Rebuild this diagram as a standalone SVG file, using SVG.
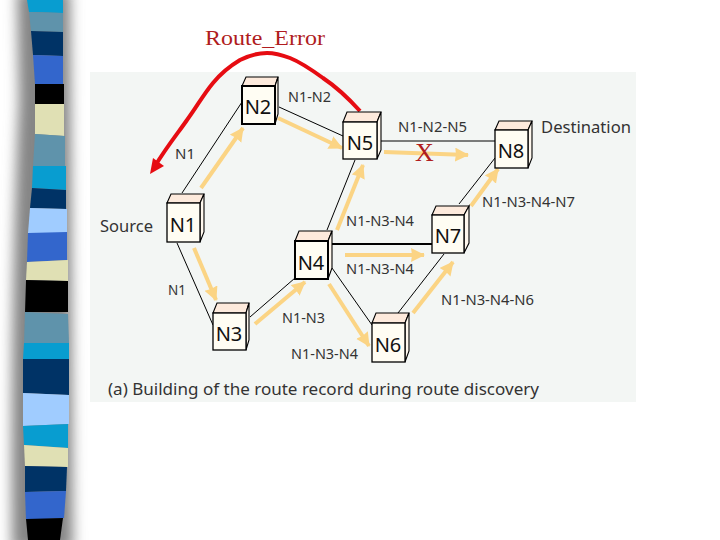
<svg xmlns="http://www.w3.org/2000/svg" width="720" height="540" viewBox="0 0 720 540">
<style>
.lbl{font-family:"Noto Sans","Open Sans","DejaVu Sans",sans-serif;font-size:15px;fill:#333}
.big{font-size:16.5px}
.nn{font-family:"Noto Sans","Open Sans","DejaVu Sans",sans-serif;font-size:20px;fill:#111;text-anchor:middle}
.lnk{stroke:#000;stroke-width:1;fill:none}
.arr{stroke:#fbd484;stroke-width:4;fill:none;marker-end:url(#oh)}
.f{fill:#fffdf3;stroke:#000;stroke-width:1.3}
.t{fill:#fdeadc;stroke:#000;stroke-width:1.1}
.s{fill:#fff8ee;stroke:#000;stroke-width:1.1}
.ser{font-family:"Liberation Serif","Times New Roman",serif}
</style>
<defs>
<marker id="oh" markerUnits="userSpaceOnUse" markerWidth="16" markerHeight="16" refX="13" refY="7" orient="auto"><path d="M0 0L14 7L0 14L1 7Z" fill="#fbd484"/></marker>
<filter id="blur" x="-50%" y="-5%" width="200%" height="110%"><feGaussianBlur stdDeviation="6.5"/></filter>
</defs>
<rect width="720" height="540" fill="#fff"/>
<rect x="90" y="72" width="546" height="330" fill="#f3f6f4"/>
<g id="strip">
<path d="M17 -10L70 -10L73 550L12 550Q10 300 19 100Z" fill="#858585" filter="url(#blur)"/>
<polygon points="27,0 63,0 63,13 29,12" fill="#089dd0"/>
<polygon points="29,12 63,13 63,32 31,31" fill="#5f93ab"/>
<polygon points="31,31 63,32 63,56 33,55" fill="#003366"/>
<polygon points="33,55 63,56 63,84 35,84" fill="#3366cc"/>
<polygon points="35,84 64,84 64,104 35,104" fill="#000"/>
<polygon points="35,104 64,104 64,136 35,134" fill="#e0e0b4"/>
<polygon points="35,134 65,136 65,166 33,166" fill="#5f93ab"/>
<polygon points="33,166 66,166 66,190 32,188" fill="#089dd0"/>
<polygon points="32,188 66,190 66,209 30,208" fill="#003366"/>
<polygon points="30,208 67,209 67,233 28,233" fill="#a0ccff"/>
<polygon points="28,233 67,232 67,260 27,262" fill="#3366cc"/>
<polygon points="27,262 68,260 68,281 26,280" fill="#e0e0b4"/>
<polygon points="26,280 68,281 68,312 25,312" fill="#000"/>
<polygon points="25,312 68,314 69,343 24,343" fill="#5f93ab"/>
<polygon points="24,343 69,343 69,359 23,359" fill="#089dd0"/>
<polygon points="23,359 69,359 69,395 23,393" fill="#003366"/>
<polygon points="23,393 69,395 69,424 23,426" fill="#a0ccff"/>
<polygon points="23,426 68,424 68,448 24,445" fill="#089dd0"/>
<polygon points="24,445 68,448 68,467 25,466" fill="#e0e0b4"/>
<polygon points="25,466 67,467 66,491 25,492" fill="#003366"/>
<polygon points="25,492 66,491 64,518 26,520" fill="#3366cc"/>
<polygon points="26,519 63,518 60,540 28,540" fill="#000"/>
</g>
<g id="connectors">
<path class="lnk" d="M182 193L242 102M279 107L343 136M327 230L355 160M381 141H495M459 204L495 158M444 254L398 313M332 268L372 325M177 243L213 325M250 317L295 278"/>
<path d="M332 244H432" stroke="#000" stroke-width="2" fill="none"/>
<path class="arr" d="M201 188L243 128"/>
<path class="arr" d="M278 118L342 148"/>
<path class="arr" d="M337 230L363 165"/>
<path class="arr" d="M384 152L468 155"/>
<path class="arr" d="M471 206L498 169"/>
<path class="arr" d="M345 255H424"/>
<path class="arr" d="M413 313L453 262"/>
<path class="arr" d="M194 248L216 300"/>
<path class="arr" d="M255 324L305 282"/>
<path class="arr" d="M329 284L369 346"/>
<path d="M360 111C350 100 335 86 323 78C312 70 300 62 290 58C282 55 275 53 267 53C257 53 248 56 240 60C230 66 222 72 213 83C203 95 196 108 187 120C178 133 168 145 155 166" fill="none" stroke="#e60c12" stroke-width="4"/>
<path d="M150 174L153 158L164 166Z" fill="#e60c12"/>
</g>
<g id="n2"><polygon class="t" points="242,86 246,77 278,77 275,86"/><polygon class="s" points="275,86 278,77 278,114 275,124"/><rect class="f" x="242" y="86" width="33" height="38" style="stroke-width:2"/><text class="nn" x="258" y="114">N2</text></g>
<g id="n5"><polygon class="t" points="343,122 347,112 381,112 377,122"/><polygon class="s" points="377,122 381,112 381,150 377,159"/><rect class="f" x="343" y="122" width="34" height="37"/><text class="nn" x="360" y="150">N5</text></g>
<g id="n1"><polygon class="t" points="167,203 171,194 204,194 200,203"/><polygon class="s" points="200,203 204,194 204,232 200,242"/><rect class="f" x="167" y="203" width="33" height="39"/><text class="nn" x="183" y="232">N1</text></g>
<g id="n8"><polygon class="t" points="495,130 499,121 532,121 528,130"/><polygon class="s" points="528,130 532,121 532,158 528,168"/><rect class="f" x="495" y="130" width="33" height="38"/><text class="nn" x="511" y="158">N8</text></g>
<g id="n7"><polygon class="t" points="432,215 436,206 469,206 464,215"/><polygon class="s" points="464,215 469,206 469,243 464,253"/><rect class="f" x="432" y="215" width="32" height="38"/><text class="nn" x="448" y="243">N7</text></g>
<g id="n4"><polygon class="t" points="295,241 299,231 332,231 328,241"/><polygon class="s" points="328,241 332,231 332,268 328,279"/><rect class="f" x="295" y="241" width="33" height="38" style="stroke-width:2"/><text class="nn" x="311" y="270">N4</text></g>
<g id="n3"><polygon class="t" points="213,313 217,303 249,303 246,313"/><polygon class="s" points="246,313 249,303 249,340 246,350"/><rect class="f" x="213" y="313" width="33" height="37"/><text class="nn" x="229" y="341">N3</text></g>
<g id="n6"><polygon class="t" points="372,323 376,313 409,313 405,323"/><polygon class="s" points="405,323 409,313 409,351 405,362"/><rect class="f" x="372" y="323" width="33" height="39"/><text class="nn" x="388" y="352">N6</text></g>
<g id="labels">
<text class="lbl" x="288" y="102" textLength="43" lengthAdjust="spacingAndGlyphs">N1-N2</text>
<text class="lbl" x="175" y="159" textLength="20" lengthAdjust="spacingAndGlyphs">N1</text>
<text class="lbl big" x="100" y="232" textLength="53" lengthAdjust="spacingAndGlyphs">Source</text>
<text class="lbl" x="398" y="132" textLength="69" lengthAdjust="spacingAndGlyphs">N1-N2-N5</text>
<text class="lbl big" x="541" y="133" textLength="90" lengthAdjust="spacingAndGlyphs">Destination</text>
<text class="lbl" x="482" y="207" textLength="93" lengthAdjust="spacingAndGlyphs">N1-N3-N4-N7</text>
<text class="lbl" x="346" y="226" textLength="68" lengthAdjust="spacingAndGlyphs">N1-N3-N4</text>
<text class="lbl" x="346" y="274" textLength="68" lengthAdjust="spacingAndGlyphs">N1-N3-N4</text>
<text class="lbl" x="441" y="305" textLength="93" lengthAdjust="spacingAndGlyphs">N1-N3-N4-N6</text>
<text class="lbl" x="168" y="295" textLength="18" lengthAdjust="spacingAndGlyphs">N1</text>
<text class="lbl" x="282" y="323" textLength="43" lengthAdjust="spacingAndGlyphs">N1-N3</text>
<text class="lbl" x="291" y="359" textLength="67" lengthAdjust="spacingAndGlyphs">N1-N3-N4</text>
<text class="lbl big" x="108" y="395" textLength="431" lengthAdjust="spacingAndGlyphs">(a) Building of the route record during route discovery</text>
<text class="ser" x="205" y="45" font-size="22" fill="#b01c20" textLength="120" lengthAdjust="spacingAndGlyphs">Route_Error</text>
<text class="ser" x="415" y="161" font-size="26" fill="#b01c20">X</text>
</g>
</svg>
